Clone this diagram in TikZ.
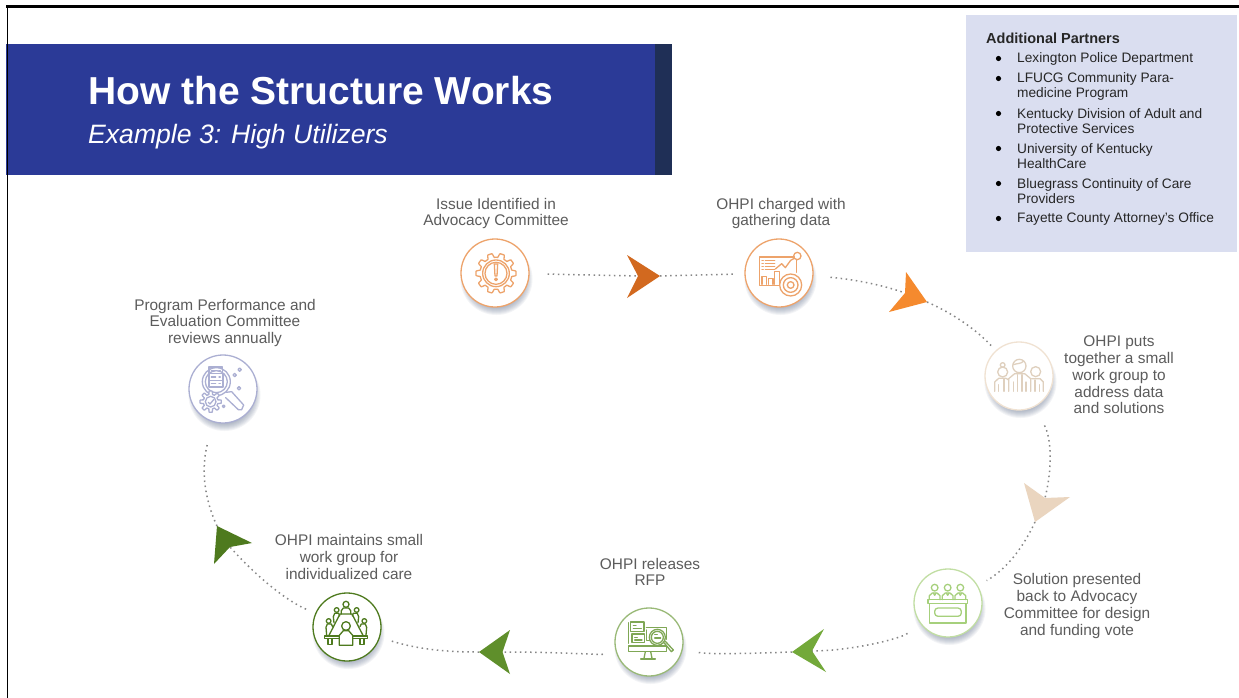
\documentclass[tikz,border=0pt]{standalone}
\usepackage{fontspec}
\setmainfont{Liberation Sans}
\usetikzlibrary{calc}
\definecolor{bannerblue}{HTML}{2B3A97}
\definecolor{bannerdark}{HTML}{1F2F56}
\definecolor{boxfill}{HTML}{DADEF0}
\definecolor{bodytext}{HTML}{5C5C5C}
\definecolor{dotgray}{HTML}{868686}
\definecolor{shadowblue}{HTML}{5F6E8C}
\definecolor{orA}{HTML}{D2691F}
\definecolor{orB}{HTML}{F58A2E}
\definecolor{orRing}{HTML}{EDA36B}
\definecolor{beige}{HTML}{EAD5BF}
\definecolor{beigeIcon}{HTML}{DFD0BE}
\definecolor{ltgreen}{HTML}{A6D07C}
\definecolor{mdgreen}{HTML}{7FA755}
\definecolor{arrowgreen}{HTML}{73A93A}
\definecolor{arrowgreenB}{HTML}{5F8F2B}
\definecolor{dkgreen}{HTML}{4E7A1E}
\definecolor{lavender}{HTML}{ABAFD2}
\tikzset{
  every picture/.style={x=1pt,y=-1pt},
  label text/.style={text=bodytext,align=center,inner sep=0pt,font=\fontsize{15.4}{16.8}\selectfont},
  partner/.style={text=black!85,anchor=west,align=left,inner sep=0pt,font=\fontsize{13.7}{15}\selectfont},
  stepcircle/.style={circle,minimum size=68pt,inner sep=0pt,fill=white,draw=#1,line width=1.3pt},
  dotline/.style={draw=dotgray,line width=1.5pt,dash pattern=on 1.5pt off 3.6pt},
  icon/.style={draw=#1,line width=1.3pt,line join=round,line cap=round},
}
\newcommand{\softshadow}[2]{%
  \foreach \k in {0,...,9}{\fill[shadowblue,opacity=.075] ($(#1,#2)+(1.5,6)$) circle[radius=27+\k*1.0];}}
\newcommand{\gearline}[5]{plot[domain=0:360,samples=241,variable=\t]
  ({#1+(#3+#4*max(-1,min(1,2.5*cos(#5*\t))))*cos(\t)},{#2+(#3+#4*max(-1,min(1,2.5*cos(#5*\t))))*sin(\t)}) -- cycle}
\begin{document}
\begin{tikzpicture}
\useasboundingbox (0,0) rectangle (1239,698);
\fill[white] (0,0) rectangle (1239,698);
% frame
\fill[black] (6,5.3) rectangle (1239,8);
% banner
\fill[bannerblue] (6,44) rectangle (656,175);
\fill[bannerdark] (655,44) rectangle (672,175);
\fill[black] (7,5.3) rectangle (8.2,698);
\node[anchor=base west,text=white,inner sep=0pt,font=\bfseries\fontsize{39}{44}\selectfont] (title) at (88,105) {How the Structure Works};
\node[anchor=base west,text=white,inner sep=0pt,font=\itshape\fontsize{26.6}{30}\selectfont] (subtitle) at (88,143) {Example 3: High Utilizers};
% partners
\fill[boxfill] (966,15) rectangle (1237,252);
\node[partner,font=\bfseries\fontsize{14.5}{15}\selectfont] (ph) at (986,38.5) {Additional Partners};
\node[partner] (p1) at (1017,58.5) {Lexington Police Department};
\node[partner] (p2) at (1017,86) {LFUCG Community Para-\\medicine Program};
\node[partner] (p3) at (1017,121) {Kentucky Division of Adult and\\Protective Services};
\node[partner] (p4) at (1017,156) {University of Kentucky\\HealthCare};
\node[partner] (p5) at (1017,191) {Bluegrass Continuity of Care\\Providers};
\node[partner] (p6) at (1017,218.5) {Fayette County Attorney's Office};
\foreach \yy in {58.5,78.5,113.5,148.5,183.5,218.5} \fill[black] (998.5,\yy) circle[radius=2.6];
% shadows
\softshadow{495}{273}\softshadow{779}{273}\softshadow{1019}{376}\softshadow{948}{603}\softshadow{649}{642}\softshadow{347}{627}\softshadow{223}{389}
% circles
\node[stepcircle=orRing] (c1) at (495,273) {};
\node[stepcircle=orRing] (c2) at (779,273) {};
\node[stepcircle=beige!70] (c3) at (1019,376) {};
\node[stepcircle=ltgreen!70] (c4) at (948,603) {};
\node[stepcircle=mdgreen!80] (c5) at (649,642) {};
\node[stepcircle=dkgreen] (c6) at (347,627) {};
\node[stepcircle=lavender] (c7) at (223,389) {};
% arrowhead anchor points
\coordinate (a1t) at (660,276);\coordinate (a1n) at (638,276);
\coordinate (a2t) at (927,302);\coordinate (a2n) at (905,293);
\coordinate (a3t) at (1035,522);\coordinate (a3n) at (1045,498);
\coordinate (a4t) at (792,652);\coordinate (a4n) at (812,651);
\coordinate (a5t) at (479,652);\coordinate (a5n) at (502.5,652);
\coordinate (a6t) at (217,526);\coordinate (a6n) at (230,547);
% connectors
\draw[dotline,shorten <=18pt] (c1) -- (a1n);
\draw[dotline,shorten >=10pt] (a1t) -- (c2);
\draw[dotline,shorten <=17pt] (c2) .. controls (850,279) and (880,284) .. (a2n);
\draw[dotline,shorten >=5pt] (a2t) .. controls (950,312) and (975,328) .. (c3);
\draw[dotline,shorten <=21pt] (c3) .. controls (1052,440) and (1052,470) .. (a3n);
\draw[dotline,shorten >=10pt] (a3t) .. controls (1022,550) and (1005,570) .. (c4);
\draw[dotline,shorten <=16pt] (c4) .. controls (900,639) and (850,651) .. (a4n);
\draw[dotline,shorten >=14pt] (a4t) .. controls (760,653) and (710,655) .. (c5);
\draw[dotline,shorten <=13pt] (c5) .. controls (600,655) and (560,652) .. (a5n);
\draw[dotline,shorten >=12pt] (a5t) .. controls (450,652) and (420,650) .. (c6);
\draw[dotline,shorten <=10pt] (c6) .. controls (285,600) and (255,575) .. (a6n);
\draw[dotline,shorten >=20pt] (a6t) .. controls (205,500) and (200,470) .. (c7);
% arrowheads
\fill[orA] (a1t) -- (627,255) -- (a1n) -- (627,298) -- cycle;
\fill[orB] (a2t) -- (906,272) -- (a2n) -- (889,312) -- cycle;
\fill[beige] (a3t) -- (1024,483) -- (a3n) -- (1070,497) -- cycle;
\fill[arrowgreen] (a4t) -- (824,629) -- (a4n) -- (826,672) -- cycle;
\fill[arrowgreenB] (a5t) -- (510,630) -- (a5n) -- (510,674) -- cycle;
\fill[dkgreen] (a6t) -- (252,543) -- (a6n) -- (214,564) -- cycle;
% labels
\node[label text] (t1) at (496,213.5) {Issue Identified in\\Advocacy Committee};
\node[label text] (t2) at (781,213.5) {OHPI charged with\\gathering data};
\node[label text] (t3) at (1119,375) {OHPI puts\\together a small\\work group to\\address data\\and solutions};
\node[label text] (t4) at (1077,606) {Solution presented\\back to Advocacy\\Committee for design\\and funding vote};
\node[label text] (t5) at (650,572) {OHPI releases\\RFP};
\node[label text] (t6) at (349,557) {OHPI maintains small\\work group for\\individualized care};
\node[label text] (t7) at (225,323) {Program Performance and\\Evaluation Committee\\reviews annually};
% icon 1: gear with exclamation mark
\begin{scope}[shift={(420,190)},x=.3333pt,y=-.3333pt]
  \draw[icon=orRing] \gearline{228}{250}{54}{6}{10};
  \draw[icon=orRing] (228,250) circle[radius=40];
  \draw[icon=orRing] (228,250) circle[radius=33];
  \draw[icon=orRing] (223,222) -- (233,222) -- (231,258) -- (225,258) -- cycle;
  \draw[icon=orRing] (228,268) circle[radius=4];
\end{scope}
% icon 2: dashboard
\begin{scope}[shift={(740,235)},x=.3333pt,y=-.3333pt]
  \draw[icon=orRing] (163,66) -- (58,66) -- (58,152) -- (120,152);
  \draw[icon=orRing] (170,76) -- (170,112);
  \foreach \yy in {76,85,94,103} {\draw[icon=orRing] (66,\yy) -- (70,\yy); \draw[icon=orRing] (76,\yy) -- (104,\yy);}
  \draw[icon=orRing] (66,148) -- (66,125) -- (80,125) -- (80,148);
  \draw[icon=orRing] (85,148) -- (85,130) -- (99,130) -- (99,148);
  \draw[icon=orRing] (104,148) -- (104,110) -- (118,110) -- (118,148);
  \draw[icon=orRing] (106,102) -- (125,86) -- (136,98) -- (152,76) -- (163,70);
  \draw[icon=orRing] (172,63) circle[radius=11];
  \draw[icon=orRing,fill=white] (152,150) circle[radius=33];
  \draw[icon=orRing] (152,150) circle[radius=22];
  \draw[icon=orRing] (152,150) circle[radius=10];
\end{scope}
% icon 3: three people
\begin{scope}[shift={(980,336)},x=.3333pt,y=-.3333pt]
  \draw[icon=beigeIcon] (118,90) circle[radius=20];
  \draw[icon=beigeIcon] (100,86) .. controls (110,82) and (123,84) .. (130,76);
  \draw[icon=beigeIcon] (86,166) -- (86,128) -- (104,113) -- (134,113) -- (152,128) -- (152,166);
  \foreach \xx in {100,112,126,138} \draw[icon=beigeIcon] (\xx,\ifnum\xx=112 116\else\ifnum\xx=126 116\else 138\fi\fi) -- (\xx,166);
  \draw[icon=beigeIcon] (68,108) circle[radius=15];
  \draw[icon=beigeIcon] (68,87) circle[radius=7];
  \draw[icon=beigeIcon] (44,166) -- (44,138) -- (56,127) -- (78,127) -- (86,132);
  \draw[icon=beigeIcon] (55,146) -- (55,166);
  \draw[icon=beigeIcon] (72,130) -- (72,166);
  \draw[icon=beigeIcon] (167,107) circle[radius=15];
  \draw[icon=beigeIcon] (155,128) -- (180,128) -- (190,138) -- (190,166);
  \draw[icon=beigeIcon] (165,132) -- (165,166);
  \draw[icon=beigeIcon] (178,146) -- (178,166);
\end{scope}
% icon 4: panel at a desk
\begin{scope}[shift={(908,563)},x=.3333pt,y=-.3333pt]
  \foreach \xx in {80,119,157} {
    \draw[icon=ltgreen] (\xx,74) circle[radius=10];
    \draw[icon=ltgreen] (\xx-16,110) -- (\xx-16,98) -- (\xx-7,90) -- (\xx+7,90) -- (\xx+16,98) -- (\xx+16,110);
    \draw[icon=ltgreen] (\xx-4,90) -- (\xx,97) -- (\xx+4,90);
  }
  \draw[icon=ltgreen] (60,110) rectangle (178,122);
  \draw[icon=ltgreen] (64,122) rectangle (174,180);
  \draw[icon=ltgreen,rounded corners=10*.3333pt] (80,135) rectangle (160,160);
\end{scope}
% icon 5: monitor with magnifier
\begin{scope}[shift={(608,600)},x=.3333pt,y=-.3333pt]
  \draw[icon=mdgreen] (62,138) -- (62,155) -- (175,155) -- (175,138) -- cycle;
  \draw[icon=mdgreen] (112,155) -- (108,175);
  \draw[icon=mdgreen] (128,155) -- (132,175);
  \draw[icon=mdgreen] (98,177) -- (142,177);
  \draw[icon=mdgreen] (62,130) -- (62,68);
  \draw[icon=mdgreen] (175,118) -- (175,82) -- (115,82);
  \draw[icon=mdgreen] (68,66) rectangle (108,94);
  \draw[icon=mdgreen] (76,76) -- (84,76) (76,85) -- (100,85);
  \draw[icon=mdgreen] (72,102) rectangle (110,128);
  \draw[icon=mdgreen] (80,112) -- (88,112) (80,120) -- (102,120);
  \draw[icon=mdgreen] (116,90) -- (116,122) -- (125,122);
  \draw[icon=mdgreen,fill=white] (148,112) circle[radius=24];
  \draw[icon=mdgreen] (148,112) circle[radius=18];
  \draw[icon=mdgreen] (140,104) -- (148,104) (140,114) -- (158,114);
  \draw[icon=mdgreen] (168,128) -- (190,155) -- (196,150) -- (172,124);
\end{scope}
% icon 6: meeting table
\begin{scope}[shift={(306,586)},x=.3333pt,y=-.3333pt]
  \draw[icon=dkgreen] (102,84) -- (138,84) -- (172,150) -- (68,150) -- cycle;
  \draw[icon=dkgreen] (55,150) -- (185,150) -- (185,158) -- (55,158) -- cycle;
  \draw[icon=dkgreen] (66,158) -- (66,176) -- (78,176) -- (78,158);
  \draw[icon=dkgreen] (162,158) -- (162,176) -- (174,176) -- (174,158);
  \draw[icon=dkgreen,fill=white] (100,178) -- (100,148) -- (112,134) -- (128,134) -- (140,148) -- (140,178) -- cycle;
  \draw[icon=dkgreen] (120,120) circle[radius=13];
  \draw[icon=dkgreen] (120,55) circle[radius=9];
  \draw[icon=dkgreen] (106,84) -- (106,74) -- (112,66) -- (128,66) -- (134,74) -- (134,84);
  \draw[icon=dkgreen] (92,72) circle[radius=7];
  \draw[icon=dkgreen] (84,110) -- (82,92) -- (86,82) -- (98,82) -- (101,90);
  \draw[icon=dkgreen] (152,72) circle[radius=7];
  \draw[icon=dkgreen] (156,110) -- (158,92) -- (154,82) -- (142,82) -- (139,90);
  \draw[icon=dkgreen] (68,105) circle[radius=7];
  \draw[icon=dkgreen] (62,148) -- (60,124) -- (64,114) -- (76,114) -- (80,122);
  \draw[icon=dkgreen] (175,105) circle[radius=7];
  \draw[icon=dkgreen] (180,148) -- (182,124) -- (178,114) -- (166,114) -- (162,122);
\end{scope}
% icon 7: data review
\begin{scope}[shift={(183,349)},x=.3333pt,y=-.3333pt]
  \draw[icon=lavender] (100,98) circle[radius=42];
  \draw[icon=lavender] (100,98) circle[radius=33];
  \draw[icon=lavender] (78,54) rectangle (118,74);
  \draw[icon=lavender] (78,74) rectangle (120,94);
  \draw[icon=lavender] (78,94) rectangle (120,114);
  \foreach \yy in {64,84,104} \draw[icon=lavender] (85,\yy) -- (98,\yy) (108,\yy) -- (112,\yy);
  \draw[icon=lavender] (130,130) -- (146,128) -- (182,168) -- (176,182) -- (166,182) -- (128,146);
  \draw[icon=lavender,fill=white] \gearline{83}{158}{27}{5}{8};
  \draw[icon=lavender] (83,158) circle[radius=16];
  \draw[icon=lavender] (76,160) -- (81,165) -- (92,152);
  \foreach \xx/\yy/\ss in {155/78/5,170/62/5,168/118/5,122/172/4}
    \draw[icon=lavender] (\xx-\ss,\yy) -- (\xx,\yy-\ss) -- (\xx+\ss,\yy) -- (\xx,\yy+\ss) -- cycle;
\end{scope}
\end{tikzpicture}
\end{document}
